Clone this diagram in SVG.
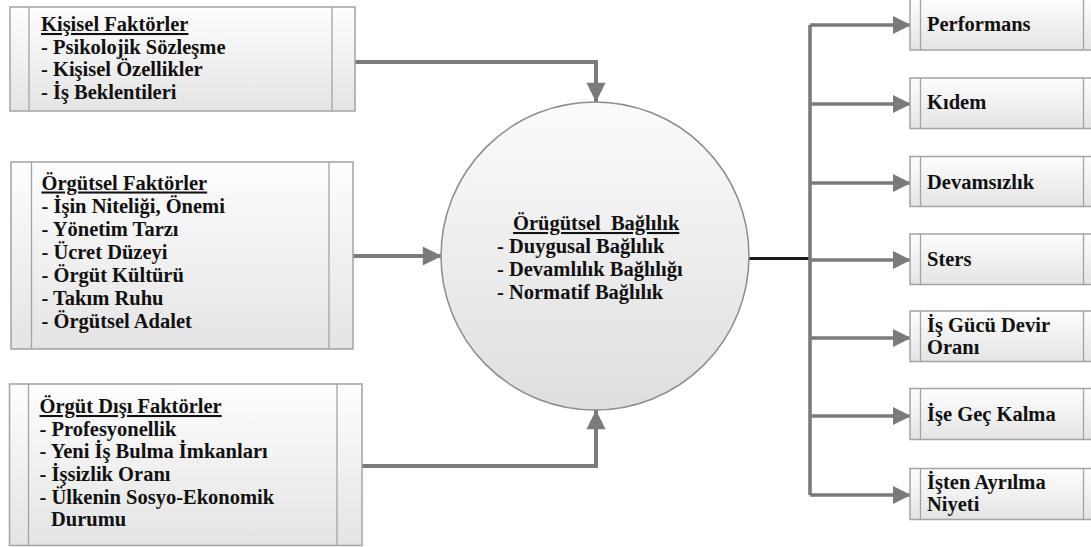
<svg xmlns="http://www.w3.org/2000/svg" width="1091" height="547" viewBox="0 0 1091 547">
<defs>
<linearGradient id="boxg" x1="0" y1="0" x2="0" y2="1">
<stop offset="0" stop-color="#fdfdfd"/>
<stop offset="1" stop-color="#e4e4e4"/>
</linearGradient>
<linearGradient id="circg" x1="0" y1="0" x2="0" y2="1">
<stop offset="0" stop-color="#fbfbfb"/>
<stop offset="1" stop-color="#dedede"/>
</linearGradient>
<marker id="ah" viewBox="0 0 10 10" refX="10" refY="5" markerWidth="5.2" markerHeight="4.8" orient="auto" markerUnits="strokeWidth">
<path d="M0,0 L10,5 L0,10 Z" fill="#7a7a7a"/>
</marker>
<marker id="ah2" viewBox="0 0 10 10" refX="10" refY="5" markerWidth="5.6" markerHeight="5" orient="auto" markerUnits="strokeWidth">
<path d="M0,0 L10,5 L0,10 Z" fill="#7a7a7a"/>
</marker>
</defs>
<style>
.box{fill:url(#boxg);stroke:#a3a3a3;stroke-width:1.5}
.inner{stroke:#a3a3a3;stroke-width:1.3}
.t{font-family:'Liberation Serif','Times New Roman',serif;font-weight:bold;font-size:20.5px;fill:#111}
.u{text-decoration:underline}
.conn{fill:none;stroke:#7a7a7a;stroke-width:4}
.conn2{fill:none;stroke:#7a7a7a;stroke-width:3.6}
</style>

<g id="connectors">
<path class="conn" d="M355,62 H596 V102" marker-end="url(#ah)"/>
<path class="conn" d="M353,256 H442" marker-end="url(#ah)"/>
<path class="conn" d="M362,466 H596 V410" marker-end="url(#ah)"/>
<path d="M749,258.5 H810" fill="none" stroke="#1a1a1a" stroke-width="3.2"/>
<path class="conn2" d="M810,25 V495"/>
<path class="conn2" d="M810,25 H911" marker-end="url(#ah2)"/>
<path class="conn2" d="M810,104 H911" marker-end="url(#ah2)"/>
<path class="conn2" d="M810,183 H911" marker-end="url(#ah2)"/>
<path class="conn2" d="M810,260 H911" marker-end="url(#ah2)"/>
<path class="conn2" d="M810,338 H911" marker-end="url(#ah2)"/>
<path class="conn2" d="M810,416 H911" marker-end="url(#ah2)"/>
<path class="conn2" d="M810,495 H911" marker-end="url(#ah2)"/>
</g>

<g id="kisisel">
<rect class="box" x="10" y="7" width="345" height="104"/>
<line class="inner" x1="29" y1="7" x2="29" y2="111"/>
<line class="inner" x1="332" y1="7" x2="332" y2="111"/>
<text class="t"><tspan class="u" x="41" y="31">Kişisel Faktörler</tspan><tspan x="41" y="53.5">- Psikolojik Sözleşme</tspan><tspan x="41" y="76">- Kişisel Özellikler</tspan><tspan x="41" y="99">- İş Beklentileri</tspan></text>
</g>

<g id="orgutsel">
<rect class="box" x="11" y="162" width="342" height="187"/>
<line class="inner" x1="31.5" y1="162" x2="31.5" y2="349"/>
<line class="inner" x1="329" y1="162" x2="329" y2="349"/>
<text class="t"><tspan class="u" x="41.5" y="189.5">Örgütsel Faktörler</tspan><tspan x="41.5" y="213">- İşin Niteliği, Önemi</tspan><tspan x="41.5" y="236">- Yönetim Tarzı</tspan><tspan x="41.5" y="259">- Ücret Düzeyi</tspan><tspan x="41.5" y="282">- Örgüt Kültürü</tspan><tspan x="41.5" y="305">- Takım Ruhu</tspan><tspan x="41.5" y="328">- Örgütsel Adalet</tspan></text>
</g>

<g id="orgutdisi">
<rect class="box" x="9.5" y="384" width="352.5" height="161.5"/>
<line class="inner" x1="28.5" y1="384" x2="28.5" y2="545.5"/>
<line class="inner" x1="337" y1="384" x2="337" y2="545.5"/>
<text class="t"><tspan class="u" x="39.5" y="413">Örgüt Dışı Faktörler</tspan><tspan x="39.5" y="435.5">- Profesyonellik</tspan><tspan x="39.5" y="458">- Yeni İş Bulma İmkanları</tspan><tspan x="39.5" y="481">- İşsizlik Oranı</tspan><tspan x="39.5" y="503.5">- Ülkenin Sosyo-Ekonomik</tspan><tspan x="51" y="526">Durumu</tspan></text>
</g>

<g id="baglilik">
<circle cx="595" cy="256" r="154" fill="url(#circg)" stroke="#8c8c8c" stroke-width="1.5"/>
<text class="t" style="white-space:pre"><tspan class="u" x="513" y="230">Örügütsel  Bağlılık</tspan><tspan x="497" y="252.5">- Duygusal Bağlılık</tspan><tspan x="497" y="276">- Devamlılık Bağlılığı</tspan><tspan x="497" y="298.5">- Normatif Bağlılık</tspan></text>
</g>

<g id="performans">
<rect class="box" x="910" y="-1" width="182" height="51"/>
<line class="inner" x1="920.5" y1="-1" x2="920.5" y2="50"/>
<line class="inner" x1="1083.5" y1="-1" x2="1083.5" y2="50"/>
<text class="t" x="927" y="31">Performans</text>
</g>
<g id="kidem">
<rect class="box" x="910" y="78" width="182" height="50.5"/>
<line class="inner" x1="920.5" y1="78" x2="920.5" y2="128.5"/>
<line class="inner" x1="1083.5" y1="78" x2="1083.5" y2="128.5"/>
<text class="t" x="927" y="109">Kıdem</text>
</g>
<g id="devamsizlik">
<rect class="box" x="910" y="156.5" width="182" height="50"/>
<line class="inner" x1="920.5" y1="156.5" x2="920.5" y2="206.5"/>
<line class="inner" x1="1083.5" y1="156.5" x2="1083.5" y2="206.5"/>
<text class="t" x="927" y="188.5">Devamsızlık</text>
</g>
<g id="sters">
<rect class="box" x="910" y="234" width="182" height="50.5"/>
<line class="inner" x1="920.5" y1="234" x2="920.5" y2="284.5"/>
<line class="inner" x1="1083.5" y1="234" x2="1083.5" y2="284.5"/>
<text class="t" x="927" y="266">Sters</text>
</g>
<g id="isgucu">
<rect class="box" x="910" y="311" width="182" height="50.5"/>
<line class="inner" x1="920.5" y1="311" x2="920.5" y2="361.5"/>
<line class="inner" x1="1083.5" y1="311" x2="1083.5" y2="361.5"/>
<text class="t"><tspan x="927" y="331.5">İş Gücü Devir</tspan><tspan x="927" y="353.5">Oranı</tspan></text>
</g>
<g id="isegec">
<rect class="box" x="910" y="388.5" width="182" height="51"/>
<line class="inner" x1="920.5" y1="388.5" x2="920.5" y2="439.5"/>
<line class="inner" x1="1083.5" y1="388.5" x2="1083.5" y2="439.5"/>
<text class="t" x="927" y="421">İşe Geç Kalma</text>
</g>
<g id="istenayrilma">
<rect class="box" x="910" y="468.5" width="182" height="51"/>
<line class="inner" x1="920.5" y1="468.5" x2="920.5" y2="519.5"/>
<line class="inner" x1="1083.5" y1="468.5" x2="1083.5" y2="519.5"/>
<text class="t"><tspan x="927" y="488.5">İşten Ayrılma</tspan><tspan x="927" y="511">Niyeti</tspan></text>
</g>
</svg>
